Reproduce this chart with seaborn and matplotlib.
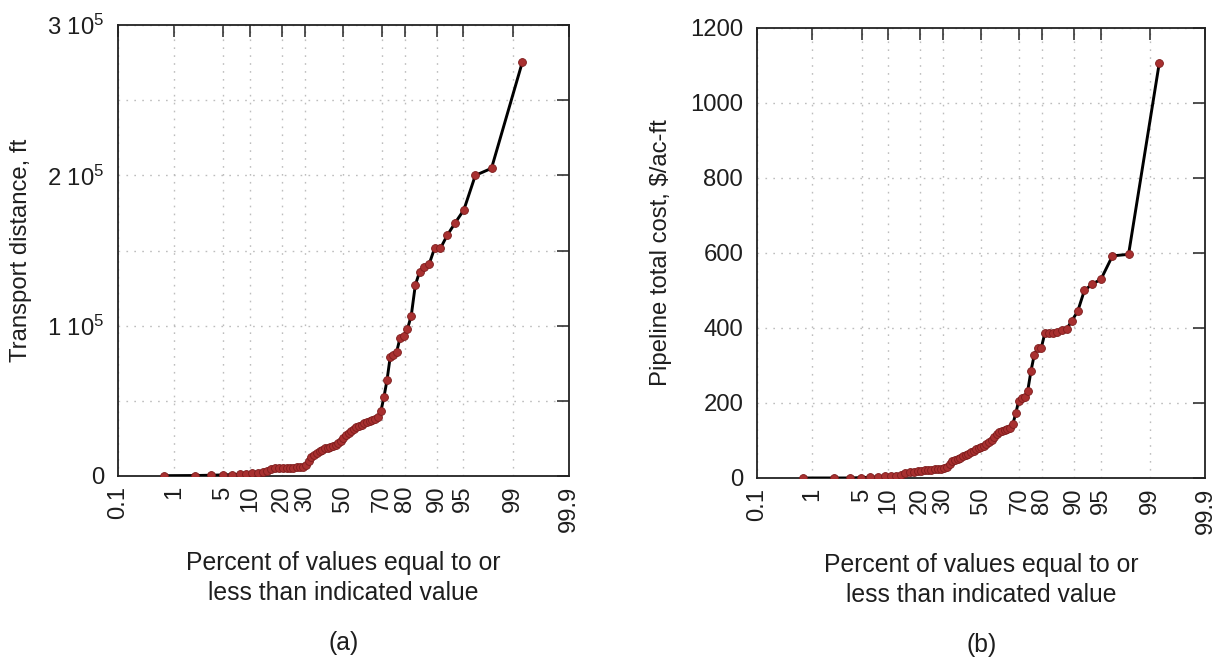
import numpy as np
import pandas as pd
import matplotlib
matplotlib.use("Agg")
import matplotlib.pyplot as plt
import seaborn as sns
from statistics import NormalDist
from matplotlib.ticker import FixedLocator, NullLocator

# ---------------- data ----------------
transport_ft = [
    200, 300, 500, 700, 900, 1100, 1400, 1700, 2000, 2400,
    3000, 4800, 5000, 5200, 5300, 5400, 5500, 5600, 5800, 6000,
    6300, 7500, 10000, 12500, 14000, 15500, 16500, 17500, 18300, 18800,
    19200, 19800, 20500, 21800, 23500, 25000, 27000, 28500, 30000, 31000,
    32300, 33000, 34000, 35000, 35800, 36500, 37000, 37800, 39000, 43500,
    52700, 63900, 79000, 80500, 82700, 92000, 93000, 97600, 106600, 127000,
    135900, 139200, 141000, 151500, 151500, 160000, 168000, 177000, 200000, 204700,
    275600,
]
pipeline_cost = [
    0, 0, 0, 1, 2, 3, 4, 5, 6, 8,
    12, 15, 17, 18, 19, 20, 21, 22, 23, 24,
    25, 27, 30, 38, 44, 48, 51, 54, 58, 62,
    65, 68, 72, 76, 79, 82, 86, 90, 95, 100,
    108, 118, 122, 124, 127, 130, 134, 145, 172, 206,
    212, 215, 233, 285, 328, 346, 346, 386, 386, 387,
    390, 395, 397, 419, 445, 500, 516, 530, 592, 596,
    1107,
]

x_ticks = [0.1, 1, 5, 10, 20, 30, 50, 70, 80, 90, 95, 99, 99.9]
x_tick_labels = ["0.1", "1", "5", "10", "20", "30", "50", "70", "80", "90", "95", "99", "99.9"]

ya_ticks = [0, 50000, 100000, 150000, 200000, 250000, 300000]
ya_tick_labels = ["0", "", r"1 10$^{\mathregular{5}}$", "", r"2 10$^{\mathregular{5}}$", "",
                  r"3 10$^{\mathregular{5}}$"]
yb_ticks = [0, 200, 400, 600, 800, 1000, 1200]
yb_tick_labels = ["0", "200", "400", "600", "800", "1000", "1200"]

xlabel_text = "Percent of values equal to or\nless than indicated value"
ylabel_a = "Transport distance, ft"
ylabel_b = "Pipeline total cost, $/ac-ft"

# ---------------- style ----------------
sns.set_theme(style="white")
plt.rcParams["font.family"] = ["Liberation Sans", "DejaVu Sans"]
plt.rcParams["mathtext.fontset"] = "custom"
plt.rcParams["mathtext.rm"] = "Liberation Sans"
plt.rcParams["mathtext.it"] = "Liberation Sans:italic"
plt.rcParams["mathtext.bf"] = "Liberation Sans:bold"

TXT = "#1e1e1e"
FS_TICK = 17.2
FS_LAB = 17.8
MARK = "#a83030"
MARK_EDGE = "#7d1c1c"

_nd = NormalDist()


def _fwd(p):
    p = np.clip(np.asarray(p, dtype=float), 1e-7, 100 - 1e-7)
    return np.vectorize(lambda v: _nd.inv_cdf(v / 100.0) if np.isfinite(v) else np.nan,
                        otypes=[float])(p)


def _inv(z):
    z = np.asarray(z, dtype=float)
    return np.vectorize(lambda v: _nd.cdf(v) * 100.0 if np.isfinite(v) else np.nan,
                        otypes=[float])(z)


def prob_frame(values):
    v = np.sort(np.asarray(values, dtype=float))
    n = len(v)
    rank = np.arange(1, n + 1)
    pct = (rank - 0.5) / n * 100.0  # Hazen plotting position
    return pd.DataFrame({"pct": pct, "val": v})


fig = plt.figure(figsize=(12.25, 6.67), dpi=100)
ax_a = fig.add_axes([0.0963, 0.2864, 0.368, 0.676])
ax_b = fig.add_axes([0.618, 0.2834, 0.366, 0.675])


def draw(ax, values, yticks, ylabels, ylim, ylabel, tag):
    ax.set_xscale("function", functions=(_fwd, _inv))
    df = prob_frame(values)
    sns.lineplot(data=df, x="pct", y="val", color="black", linewidth=2.1,
                 ax=ax, zorder=3, sort=True)
    sns.scatterplot(data=df, x="pct", y="val", color=MARK, s=32,
                    edgecolor=MARK_EDGE, linewidth=0.6, ax=ax, zorder=4)
    ax.set_xlim(0.1, 99.9)
    ax.set_ylim(*ylim)
    ax.xaxis.set_major_locator(FixedLocator(x_ticks))
    ax.set_xticklabels(x_tick_labels, rotation=90)
    ax.xaxis.set_minor_locator(NullLocator())
    ax.set_yticks(yticks)
    ax.set_yticklabels(ylabels)
    ax.grid(True, color="#bdbdbd", linestyle=(0, (1.2, 4.5)), linewidth=1.0, zorder=0)
    ax.set_axisbelow(True)
    for s in ax.spines.values():
        s.set_visible(True)
        s.set_color("#222222")
        s.set_linewidth(1.3)
    ax.tick_params(axis="both", which="major", direction="in", top=True, right=True,
                   length=8.5, width=1.1, color="#222222", labelsize=FS_TICK, labelcolor=TXT)
    ax.tick_params(axis="x", pad=7)
    ax.tick_params(axis="y", pad=10)
    ax.set_xlabel(xlabel_text, fontsize=FS_LAB, color=TXT, linespacing=1.3)
    ax.xaxis.set_label_coords(0.5, -0.167)
    ax.set_ylabel(ylabel, fontsize=FS_TICK, color=TXT)
    ax.yaxis.set_label_coords(-0.19, 0.5)
    ax.text(0.5, -0.37, tag, transform=ax.transAxes, ha="center", va="center",
            fontsize=FS_LAB, color=TXT)


draw(ax_a, transport_ft, ya_ticks, ya_tick_labels, (0, 300000), ylabel_a, "(a)")
draw(ax_b, pipeline_cost, yb_ticks, yb_tick_labels, (0, 1200), ylabel_b, "(b)")

fig.savefig("out.png", dpi=100, facecolor="white")
